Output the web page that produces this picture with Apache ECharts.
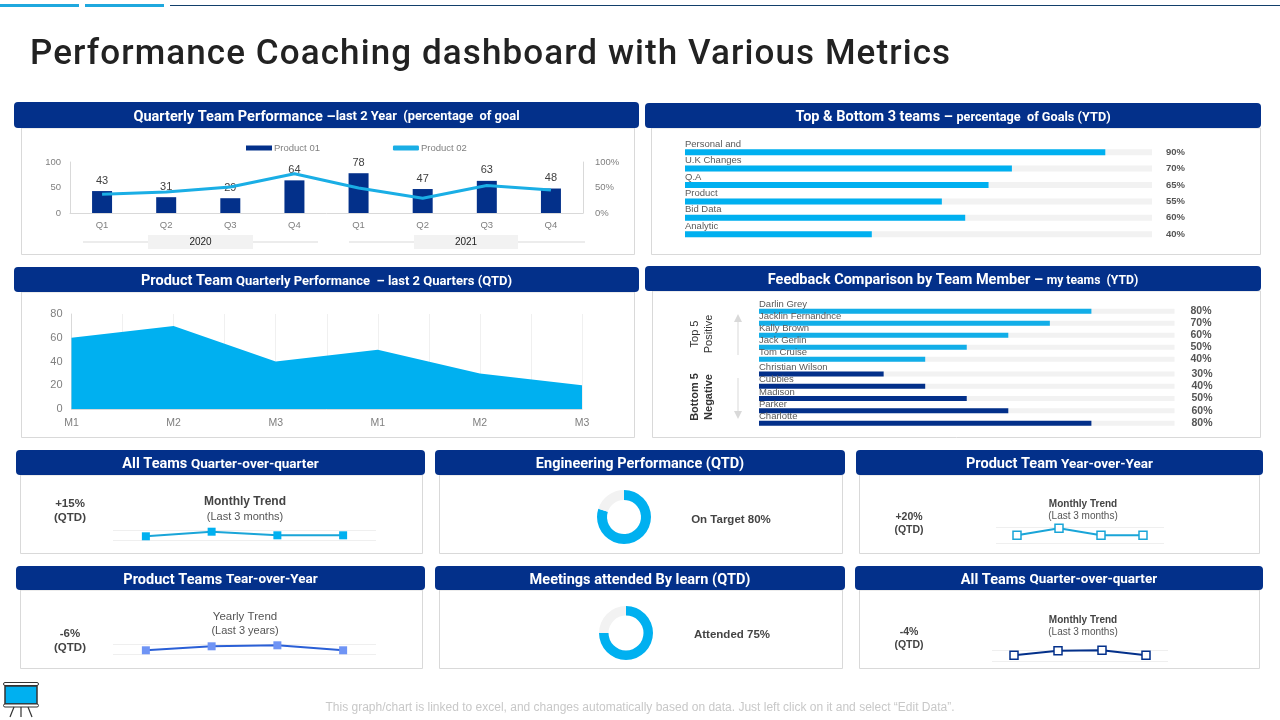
<!DOCTYPE html>
<html>
<head>
<meta charset="utf-8">
<title>Performance Coaching dashboard</title>
<script src="https://cdn.jsdelivr.net/npm/echarts@6/dist/echarts.min.js"></script>
<style>
  html, body { margin: 0; padding: 0; background: #fff; }
  #main { width: 1280px; height: 720px; }
  #title {
    position: absolute; left: 30px; top: 32px; margin: 0; z-index: 2; white-space: nowrap;
    font: 500 35px/42px Roboto, sans-serif; letter-spacing: 1.1px; color: #222;
  }
</style>
</head>
<body>
<h1 id="title">Performance Coaching dashboard with Various Metrics</h1>
<div id="main"></div>
<script>
// ====== DATA ======
const quarters = ['Q1', 'Q2', 'Q3', 'Q4', 'Q1', 'Q2', 'Q3', 'Q4'];
const product01 = [43, 31, 29, 64, 78, 47, 63, 48];
const product02 = [37, 41, 51, 77, 49, 29, 54, 45];

const topTeams = ['Personal and', 'U.K Changes', 'Q.A', 'Product', 'Bid Data', 'Analytic'];
const topTeamValues = [90, 70, 65, 55, 60, 40];

const months = ['M1', 'M2', 'M3', 'M1', 'M2', 'M3'];
const productTeamValues = [60, 70, 40, 50, 30, 20];

const positiveNames = ['Darlin Grey', 'Jacklin Fernandnce', 'Kally Brown', 'Jack Gerlin', 'Tom Cruise'];
const positiveValues = [80, 70, 60, 50, 40];
const negativeNames = ['Christian Wilson', 'Cubbies', 'Madison', 'Parker', 'Charlotte'];
const negativeValues = [30, 40, 50, 60, 80];

const trendPoints = ['P1', 'P2', 'P3', 'P4'];
const allTeamsTrend = [37, 83, 47, 47];
const productTeamsTrend = [40, 80, 90, 40];
const productYoyTrend = [50, 94, 50, 50];
const allTeamsQoqTrend = [55, 95, 100, 55];

const engineeringSplit = [80, 20];
const meetingsSplit = [75, 25];

// ====== COLORS ======
const NAVY = '#03308a';
const CYAN = '#00b0f0';
const BORDER = '#d9d9d9';
const LIGHT = '#f2f2f2';
const GREY_TEXT = '#7f7f7f';
const HEAD_FONT = 'Roboto';
const BODY_FONT = '"Liberation Sans"';

const grid = [], xAxis = [], yAxis = [], series = [], graphic = [];

// ====== HELPERS ======
function text(str, x, y, size, color, weight, align, extra) {
  graphic.push(Object.assign({
    type: 'text', x: x, y: y, z: 5,
    style: {
      text: str, fontSize: size, fill: color, fontWeight: weight || 'normal',
      fontFamily: BODY_FONT, textAlign: align || 'center', textVerticalAlign: 'middle'
    }
  }, extra || {}));
}

function panel(x1, x2, yHead, yBody, yEnd, bodyX1, bodyX2, big, small, smallSize) {
  graphic.push({
    type: 'rect', z: 0,
    shape: { x: bodyX1 + 0.5, y: yBody, width: bodyX2 - bodyX1, height: yEnd - yBody + 0.5 },
    style: { fill: '#fff', stroke: BORDER, lineWidth: 1 }
  });
  graphic.push({
    type: 'rect', z: 1,
    shape: { x: x1, y: yHead, width: x2 - x1, height: yBody - yHead, r: 4 },
    style: { fill: NAVY }
  });
  graphic.push({
    type: 'text', z: 5, x: (x1 + x2) / 2, y: (yHead + yBody) / 2 + 2,
    style: {
      text: '{a|' + big + '}' + (small ? '{b|' + small + '}' : ''),
      textAlign: 'center', textVerticalAlign: 'middle',
      rich: {
        a: { fontSize: 14.5, fontWeight: 'bold', fill: '#fff', fontFamily: HEAD_FONT },
        b: { fontSize: smallSize || 12, fontWeight: 'bold', fill: '#fff', fontFamily: HEAD_FONT }
      }
    }
  });
}

// barre horizontale avec fond gris, nom au dessus, valeur a droite
function addBars(left, top, width, height, names, values, color, barH, nameY, labelMargin, valueStyle) {
  const i = grid.length;
  grid.push({ left: left, top: top, width: width, height: height });
  xAxis.push({ type: 'value', gridIndex: i, min: 0, max: 100, show: false });
  yAxis.push({
    type: 'category', gridIndex: i, data: names, inverse: true,
    axisLine: { show: false }, axisTick: { show: false }, axisLabel: { show: false }
  });
  yAxis.push({
    type: 'category', gridIndex: i, data: values.map(v => v + '%'), inverse: true, position: 'right',
    axisLine: { show: false }, axisTick: { show: false },
    axisLabel: Object.assign({ margin: labelMargin, interval: 0, fontFamily: BODY_FONT, align: 'left' }, valueStyle)
  });
  series.push({
    type: 'bar', xAxisIndex: xAxis.length - 1, yAxisIndex: yAxis.length - 2,
    data: values, barWidth: barH, silent: true,
    itemStyle: { color: color },
    showBackground: true, backgroundStyle: { color: LIGHT },
    label: {
      show: true, formatter: '{b}', position: [0, nameY], align: 'left',
      fontSize: 9.5, color: '#595959', fontFamily: BODY_FONT
    }
  });
}

function addTrend(left, top, width, height, values, lineColor, markerFill, markerBorder) {
  const i = grid.length;
  grid.push({ left: left, top: top, width: width, height: height });
  xAxis.push({
    type: 'category', gridIndex: i, data: trendPoints,
    axisLine: { show: false }, axisTick: { show: false }, axisLabel: { show: false }
  });
  yAxis.push({
    type: 'value', gridIndex: i, min: 0, max: 100, interval: 100,
    axisLine: { show: false }, axisTick: { show: false }, axisLabel: { show: false },
    splitLine: { lineStyle: { color: '#efefef', width: 1 } }
  });
  series.push({
    type: 'line', xAxisIndex: xAxis.length - 1, yAxisIndex: yAxis.length - 1,
    data: values, symbol: 'rect', symbolSize: 8, clip: false, silent: true,
    lineStyle: { color: lineColor, width: 2 },
    itemStyle: { color: markerFill, borderColor: markerBorder, borderWidth: markerBorder === markerFill ? 0 : 1.5 }
  });
}

function addDonut(cx, cy, values, inner, outer) {
  series.push({
    type: 'pie', center: [cx, cy], radius: [inner, outer], startAngle: 90, silent: true,
    label: { show: false }, labelLine: { show: false },
    data: [
      { value: values[0], itemStyle: { color: CYAN } },
      { value: values[1], itemStyle: { color: LIGHT } }
    ]
  });
}

// ====== BANDEAU ======
graphic.push({ type: 'rect', shape: { x: 0, y: 4, width: 79, height: 3 }, style: { fill: '#1fa8de' } });
graphic.push({ type: 'rect', shape: { x: 85, y: 4, width: 79, height: 3 }, style: { fill: '#1fa8de' } });
graphic.push({ type: 'rect', shape: { x: 170, y: 5, width: 1110, height: 1 }, style: { fill: '#123f6b' } });

// ====== PANNEAUX ======
panel(14, 639, 102, 128, 254, 21, 634, 'Quarterly Team Performance \u2013', 'last 2 Year  (percentage  of goal', 12.9);
panel(645, 1261, 103, 128, 254, 651, 1260, 'Top & Bottom 3 teams \u2013 ', 'percentage  of Goals (YTD)', 12.7);
panel(14, 639, 267, 292, 437, 21, 634, 'Product Team ', 'Quarterly Performance  \u2013 last 2 Quarters (QTD)', 13);
panel(645, 1261, 266, 291, 437, 652, 1260, 'Feedback Comparison by Team Member \u2013 ', 'my teams  (YTD)', 12.2);
panel(16, 425, 450, 475, 553, 20, 422, 'All Teams ', 'Quarter-over-quarter', 13.5);
panel(435, 845, 450, 475, 553, 439, 842, 'Engineering Performance (QTD)');
panel(856, 1263, 450, 475, 553, 859, 1259, 'Product Team ', 'Year-over-Year', 13.5);
panel(16, 425, 566, 590, 668, 20, 422, 'Product Teams ', 'Tear-over-Year', 13.5);
panel(435, 845, 566, 590, 668, 439, 842, 'Meetings attended By learn (QTD)');
panel(855, 1263, 566, 590, 668, 859, 1259, 'All Teams ', 'Quarter-over-quarter', 13.5);

// ====== 1. PERFORMANCE TRIMESTRIELLE ======
grid.push({ left: 70, top: 162, width: 513, height: 51 });
xAxis.push({
  type: 'category', gridIndex: 0, data: quarters,
  axisLine: { lineStyle: { color: BORDER } }, axisTick: { show: false },
  axisLabel: { fontSize: 9.5, color: GREY_TEXT, fontFamily: BODY_FONT, margin: 7 }
});
yAxis.push({
  type: 'value', gridIndex: 0, min: 0, max: 100, interval: 50,
  axisLine: { show: true, lineStyle: { color: BORDER } }, axisTick: { show: false }, splitLine: { show: false },
  axisLabel: { fontSize: 9.5, color: GREY_TEXT, fontFamily: BODY_FONT, margin: 9 }
});
yAxis.push({
  type: 'value', gridIndex: 0, min: 0, max: 100, interval: 50, position: 'right',
  axisLine: { show: true, lineStyle: { color: BORDER } }, axisTick: { show: false }, splitLine: { show: false },
  axisLabel: { fontSize: 9.5, color: GREY_TEXT, fontFamily: BODY_FONT, margin: 12, formatter: '{value}%' }
});
series.push({
  name: 'Product 01', type: 'bar', xAxisIndex: 0, yAxisIndex: 0, data: product01, barWidth: 20, silent: true,
  itemStyle: { color: NAVY },
  label: { show: true, position: 'top', distance: 5, fontSize: 11, color: '#404040', fontFamily: BODY_FONT }
});
series.push({
  name: 'Product 02', type: 'line', xAxisIndex: 0, yAxisIndex: 1, data: product02, symbol: 'none', silent: true,
  lineStyle: { color: '#1aaee5', width: 3 }, itemStyle: { color: '#1aaee5' }
});

// sous-axe des annees
[[83, 318, 148, 253, '2020'], [349, 585, 414, 518, '2021']].forEach(y => {
  graphic.push({ type: 'line', z: 1, shape: { x1: y[0], y1: 242, x2: y[1], y2: 242 }, style: { stroke: BORDER, lineWidth: 1 } });
  graphic.push({ type: 'rect', z: 2, shape: { x: y[2], y: 235, width: y[3] - y[2], height: 14 }, style: { fill: LIGHT } });
  text(y[4], (y[2] + y[3]) / 2, 242, 10, '#222');
});

// ====== 2. TOP & BOTTOM ======
addBars(685, 144, 467, 98.4, topTeams, topTeamValues, CYAN, 6, -10, 14,
  { fontSize: 9.5, color: '#555', fontWeight: 'bold' });

// ====== 3. AIRE PRODUCT TEAM ======
let idx = grid.length;
grid.push({ left: 71.5, top: 314, width: 510.5, height: 95 });
xAxis.push({
  type: 'category', gridIndex: idx, data: months, boundaryGap: false,
  axisLine: { lineStyle: { color: BORDER } }, axisTick: { show: false },
  axisLabel: { fontSize: 10.5, color: GREY_TEXT, fontFamily: BODY_FONT, margin: 9 }
});
// axe cache pour les lignes verticales
xAxis.push({
  type: 'value', gridIndex: idx, min: 0, max: 10, interval: 1, position: 'top',
  axisLine: { show: false }, axisTick: { show: false }, axisLabel: { show: false },
  splitLine: { show: true, lineStyle: { color: '#f0f0f0', width: 1 } }
});
yAxis.push({
  type: 'value', gridIndex: idx, min: 0, max: 80, interval: 20,
  axisLine: { show: true, lineStyle: { color: BORDER } }, axisTick: { show: false }, splitLine: { show: false },
  axisLabel: { fontSize: 11, color: GREY_TEXT, fontFamily: BODY_FONT, margin: 9 }
});
series.push({
  type: 'line', xAxisIndex: xAxis.length - 2, yAxisIndex: yAxis.length - 1, data: productTeamValues,
  symbol: 'none', silent: true, lineStyle: { width: 0 }, areaStyle: { color: CYAN, opacity: 1 }
});

// ====== 4. FEEDBACK ======
const feedbackValue = { fontSize: 10.5, color: '#555', fontWeight: 'bold' };
addBars(759, 305.3, 415.5, 60, positiveNames, positiveValues, '#12aee8', 5, -9, 16, feedbackValue);
addBars(759, 367.8, 415.5, 61.5, negativeNames, negativeValues, NAVY, 5, -9, 17, feedbackValue);
text('Top 5', 695, 334, 11, '#333', 'normal', 'center', { rotation: Math.PI / 2 });
text('Positive', 709, 334, 11, '#333', 'normal', 'center', { rotation: Math.PI / 2 });
text('Bottom 5', 695, 397, 11, '#333', 'bold', 'center', { rotation: Math.PI / 2 });
text('Negative', 709, 397, 11, '#333', 'bold', 'center', { rotation: Math.PI / 2 });
graphic.push({ type: 'line', z: 1, shape: { x1: 738, y1: 320, x2: 738, y2: 355 }, style: { stroke: BORDER, lineWidth: 1 } });
graphic.push({ type: 'polygon', z: 1, shape: { points: [[738, 314], [734, 322], [742, 322]] }, style: { fill: BORDER } });
graphic.push({ type: 'line', z: 1, shape: { x1: 738, y1: 378, x2: 738, y2: 413 }, style: { stroke: BORDER, lineWidth: 1 } });
graphic.push({ type: 'polygon', z: 1, shape: { points: [[738, 419], [734, 411], [742, 411]] }, style: { fill: BORDER } });

// ====== 5. PETITS PANNEAUX ======
addTrend(113, 530, 263, 10, allTeamsTrend, '#1aa5d8', CYAN, CYAN);
text('+15%', 70, 504, 11.5, '#444', 'bold');
text('(QTD)', 70, 518, 11.5, '#444', 'bold');
text('Monthly Trend', 245, 502, 12, '#444', 'bold');
text('(Last 3 months)', 245, 517, 11, '#555');

addTrend(113, 644.3, 263, 10, productTeamsTrend, '#2a5fd6', '#6f94f5', '#6f94f5');
text('-6%', 70, 634, 11.5, '#444', 'bold');
text('(QTD)', 70, 648, 11.5, '#444', 'bold');
text('Yearly Trend', 245, 617, 11.5, '#555');
text('(Last 3 years)', 245, 631, 11, '#555');

addTrend(996, 527.3, 168, 16, productYoyTrend, '#1aa5d8', '#fff', '#1aa5d8');
text('+20%', 909, 517, 10.5, '#444', 'bold');
text('(QTD)', 909, 530, 10.5, '#444', 'bold');
text('Monthly Trend', 1083, 504, 10, '#444', 'bold');
text('(Last 3 months)', 1083, 516, 10, '#555');

addTrend(992, 650.3, 176, 11, allTeamsQoqTrend, NAVY, '#fff', NAVY);
text('-4%', 909, 632, 10.5, '#444', 'bold');
text('(QTD)', 909, 645, 10.5, '#444', 'bold');
text('Monthly Trend', 1083, 620, 10, '#444', 'bold');
text('(Last 3 months)', 1083, 632, 10, '#555');

addDonut(624, 517, engineeringSplit, 17, 27);
text('On Target 80%', 731, 520, 11.5, '#444', 'bold');
addDonut(626, 633, meetingsSplit, 17.5, 27);
text('Attended 75%', 732, 635, 11.5, '#444', 'bold');

// ====== ICONE + PIED DE PAGE ======
graphic.push({ type: 'rect', shape: { x: 5, y: 686, width: 32, height: 18 }, style: { fill: CYAN, stroke: '#333', lineWidth: 1.5 } });
graphic.push({ type: 'rect', shape: { x: 3.5, y: 682.5, width: 35, height: 3, r: 1.5 }, style: { fill: '#fff', stroke: '#333', lineWidth: 1 } });
graphic.push({ type: 'rect', shape: { x: 3.5, y: 704, width: 35, height: 3, r: 1.5 }, style: { fill: '#fff', stroke: '#333', lineWidth: 1 } });
[[14, 10], [21, 21], [28, 32]].forEach(l => {
  graphic.push({ type: 'line', shape: { x1: l[0], y1: 707, x2: l[1], y2: 717 }, style: { stroke: '#333', lineWidth: 1.2 } });
});
text('This graph/chart is linked to excel, and changes automatically based on data. Just left click on it and select \u201cEdit Data\u201d.',
  640, 708, 12, '#c8c8c8');

// ====== CHART ======
const myChart = echarts.init(document.getElementById('main'));
myChart.setOption({
  animation: false,
  backgroundColor: '#fff',
  tooltip: { show: false },
  legend: {
    left: 246, top: 143, padding: 0, itemWidth: 26, itemHeight: 5, itemGap: 73,
    data: [{ name: 'Product 01', icon: 'rect' }, { name: 'Product 02', icon: 'roundRect' }],
    textStyle: { fontSize: 9.5, color: GREY_TEXT, fontFamily: BODY_FONT, padding: [0, 0, 0, -3] },
    selectedMode: false
  },
  graphic: graphic,
  grid: grid,
  xAxis: xAxis,
  yAxis: yAxis,
  series: series
});
window.addEventListener('resize', () => myChart.resize());
</script>
</body>
</html>
